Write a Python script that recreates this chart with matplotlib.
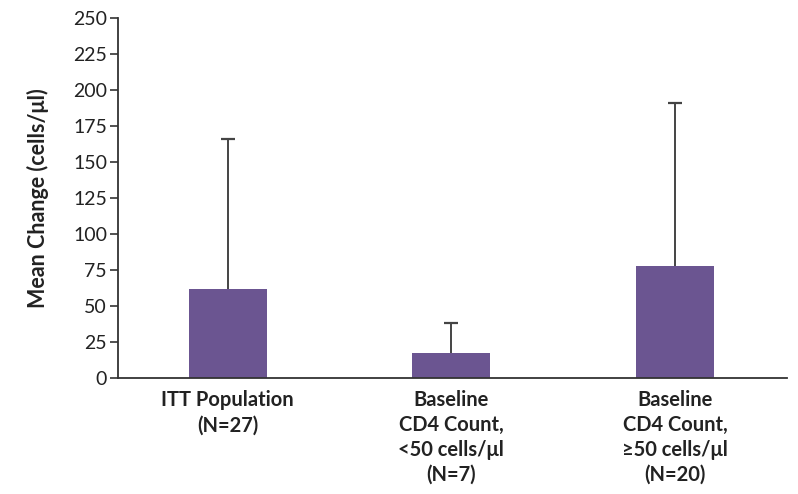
import matplotlib.pyplot as plt
import numpy as np

plt.rcParams['font.family'] = ['Lato', 'DejaVu Sans']

categories = ['ITT Population\n(N=27)',
              'Baseline\nCD4 Count,\n<50 cells/\u03bcl\n(N=7)',
              'Baseline\nCD4 Count,\n\u226550 cells/\u03bcl\n(N=20)']
means = [62, 17, 78]
upper_err = [104, 21, 113]

fig, ax = plt.subplots(figsize=(7.98, 4.94), dpi=100)
fig.subplots_adjust(left=0.148, right=0.986, top=0.963, bottom=0.235)

x = np.arange(len(categories))
ax.bar(x, means, width=0.35, color='#6b5591', zorder=2)
eb = ax.errorbar(x, means, yerr=[np.zeros(3), upper_err], fmt='none',
                 ecolor='#444444', elinewidth=1.4, capsize=5, capthick=1.6,
                 zorder=1)
# only the upper cap, like the original
eb[1][0].set_visible(False)

ax.set_xlim(-0.49, 2.50)
ax.set_ylim(0, 250)
ax.set_yticks(np.arange(0, 251, 25))
ax.set_xticks(x)
ax.set_xticklabels(categories, fontsize=14.5, fontweight='bold',
                   linespacing=1.3, color='#222222')
ax.tick_params(axis='x', length=0, pad=9)
ax.tick_params(axis='y', length=6, width=1.2, labelsize=14, colors='#333333',
               labelcolor='#222222', pad=2)
ax.set_ylabel('Mean Change (cells/\u03bcl)', fontsize=15.5, fontweight='bold',
              color='#222222', labelpad=17)

for s in ['top', 'right']:
    ax.spines[s].set_visible(False)
for s in ['left', 'bottom']:
    ax.spines[s].set_color('#333333')
    ax.spines[s].set_linewidth(1.3)

fig.savefig('out.png', dpi=100)
